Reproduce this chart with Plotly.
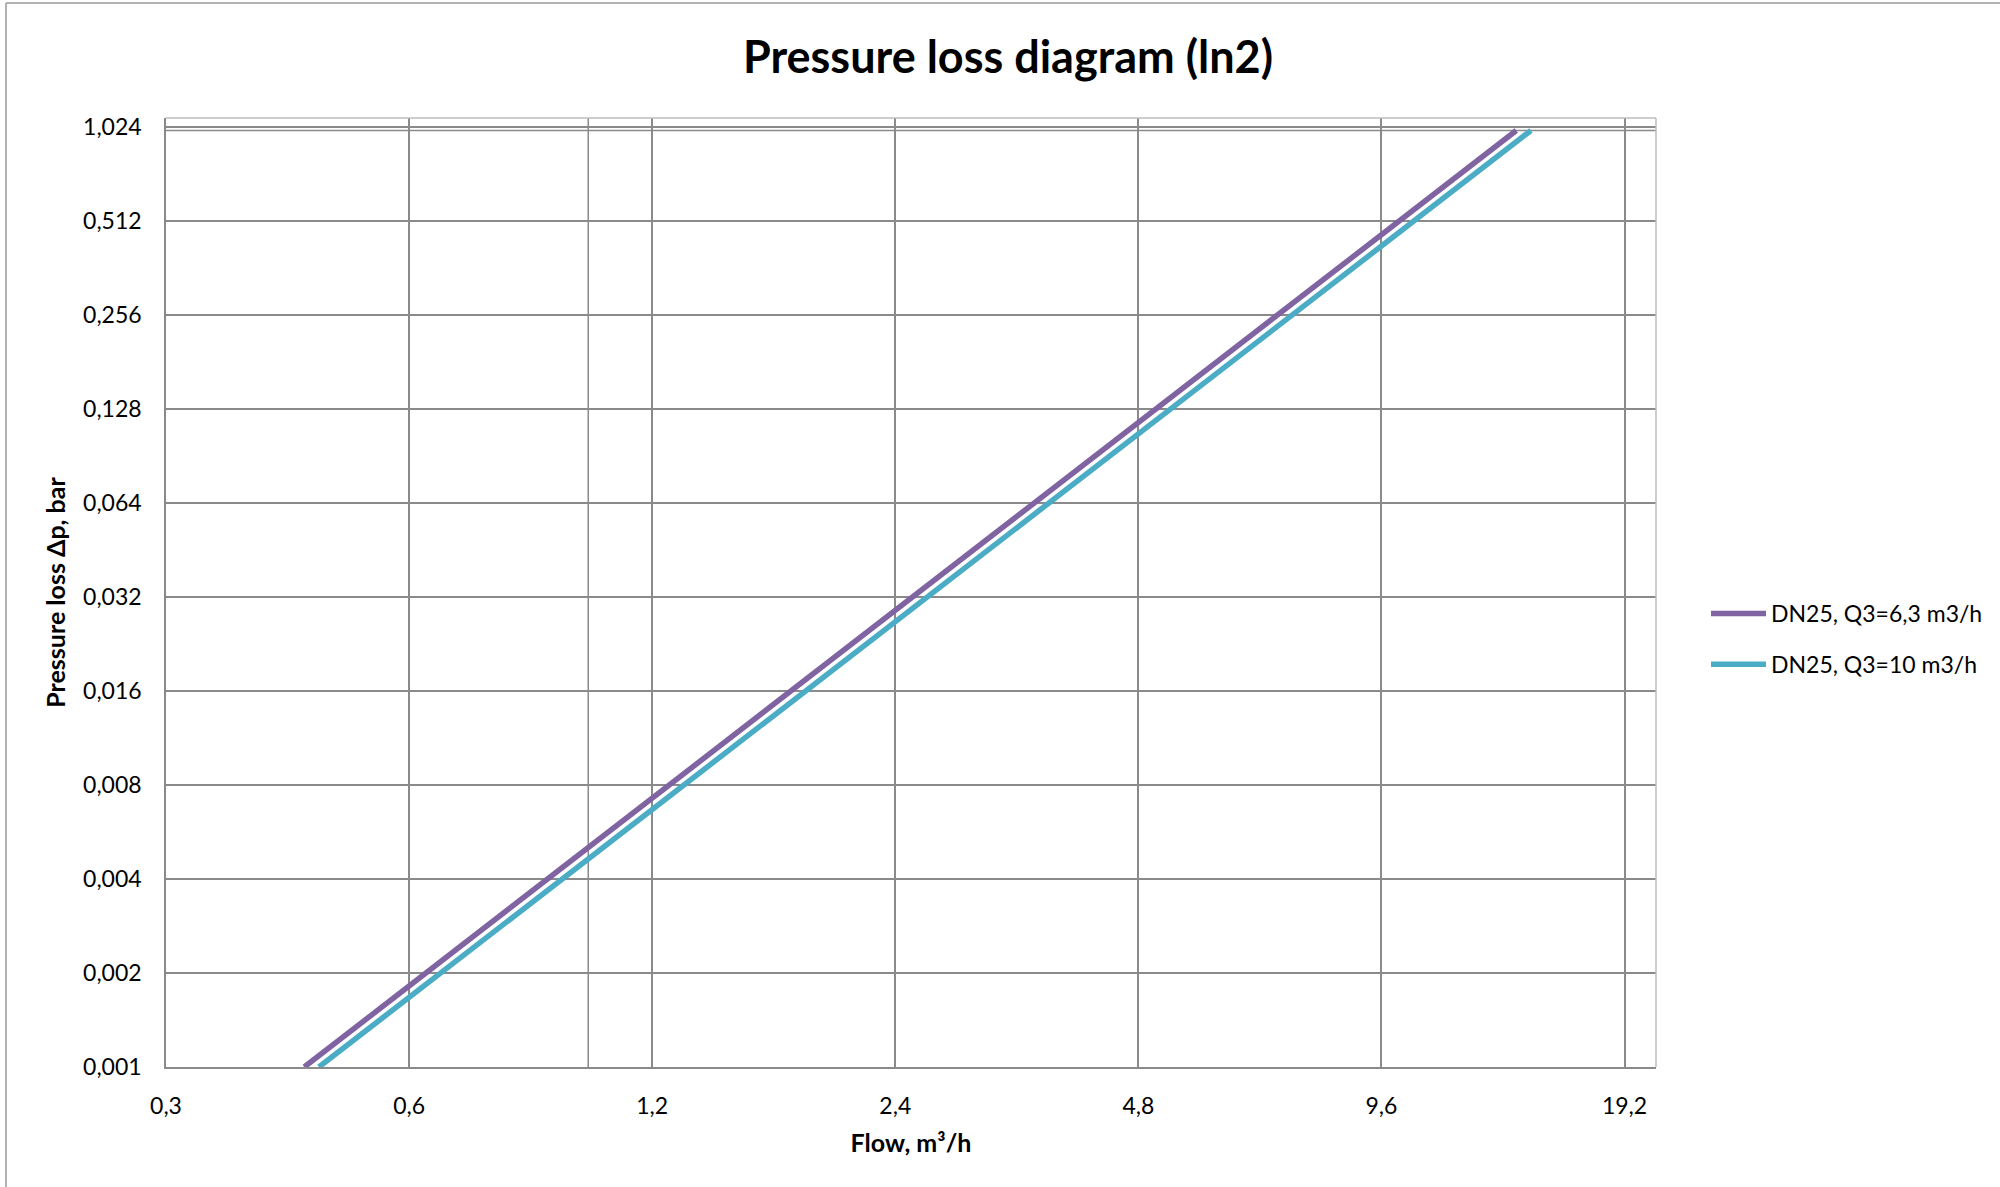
import plotly.graph_objects as go
import math

# Data (flow m3/h, pressure loss bar)
series_names = ["DN25, Q3=6,3 m3/h", "DN25, Q3=10 m3/h"]
flow_q3_63 = [0.445, 14.1]
dp_q3_63 = [0.001, 1.0]
flow_q3_10 = [0.464, 14.7]
dp_q3_10 = [0.001, 1.0]
colors = ["#8064A2", "#4BACC6"]

x_tickvals = [0.3, 0.6, 1.2, 2.4, 4.8, 9.6, 19.2]
x_ticktext = ["0,3", "0,6", "1,2", "2,4", "4,8", "9,6", "19,2"]
y_tickvals = [0.001, 0.002, 0.004, 0.008, 0.016, 0.032, 0.064, 0.128, 0.256, 0.512, 1.024]
y_ticktext = ["0,001", "0,002", "0,004", "0,008", "0,016", "0,032", "0,064", "0,128", "0,256", "0,512", "1,024"]
x_range = [0.3, 21.0]
y_range = [0.001, 1.097]
extra_x_grid = [1.0]
extra_y_grid = [1.0]

FONT = "Lato"
GRID = "#8a8a8a"

fig = go.Figure()
for i, (name, xs, ys, c) in enumerate([(series_names[0], flow_q3_63, dp_q3_63, colors[0]),
                                       (series_names[1], flow_q3_10, dp_q3_10, colors[1])]):
    fig.add_trace(go.Scatter(x=xs, y=ys, mode="lines", name=name, legendgroup=f"g{i}",
                             line=dict(color=c, width=5.5)))

shapes = []
for xv in extra_x_grid:
    shapes.append(dict(type="line", xref="x", yref="paper", x0=xv, x1=xv, y0=0, y1=1,
                       line=dict(color=GRID, width=1.5), layer="below"))
for yv in extra_y_grid:
    shapes.append(dict(type="line", xref="paper", yref="y", x0=0, x1=1, y0=yv, y1=yv,
                       line=dict(color=GRID, width=1.5), layer="below"))
# top/right plot border (lighter)
shapes.append(dict(type="line", xref="paper", yref="paper", x0=0, x1=1, y0=1, y1=1,
                   line=dict(color="#bdbdbd", width=1.5)))
shapes.append(dict(type="line", xref="paper", yref="paper", x0=1, x1=1, y0=0, y1=1,
                   line=dict(color="#bdbdbd", width=1.5)))
# outer chart frame (left and top)
L, R, T, B = 166, 344, 118, 120
W, H = 2000, 1187
pw, ph = W - L - R, H - T - B
def px2x(px):
    return (px - L) / pw
def py2y(py):
    return (H - B - py) / ph
shapes.append(dict(type="line", xref="paper", yref="paper", x0=px2x(6), x1=px2x(2000),
                   y0=py2y(3), y1=py2y(3), line=dict(color="#9a9a9a", width=1.5)))
shapes.append(dict(type="line", xref="paper", yref="paper", x0=px2x(6), x1=px2x(6),
                   y0=py2y(3), y1=py2y(1187), line=dict(color="#9a9a9a", width=1.5)))

fig.update_layout(
    width=W, height=H,
    margin=dict(l=L, r=R, t=T, b=B),
    paper_bgcolor="white", plot_bgcolor="white",
    font=dict(family=FONT, color="#000000", size=23),
    separators=", ",
    title=dict(text="<b>Pressure loss diagram (ln2)</b>", x=1008 / W, xanchor="center",
               y=1 - 57 / H, yanchor="middle", font=dict(family=FONT, size=45, color="black")),
    xaxis=dict(type="log", range=[math.log10(x_range[0]), math.log10(x_range[1])],
               tickvals=x_tickvals, ticktext=x_ticktext,
               showgrid=True, gridcolor=GRID, gridwidth=1.5,
               showline=True, linecolor=GRID, linewidth=1.5,
               ticks="", ticklabelstandoff=18, zeroline=False,
               tickfont=dict(size=23),
               title=dict(text="<b>Flow, m³/h</b>", font=dict(size=25), standoff=16)),
    yaxis=dict(type="log", range=[math.log10(y_range[0]), math.log10(y_range[1])],
               tickvals=y_tickvals, ticktext=y_ticktext,
               showgrid=True, gridcolor=GRID, gridwidth=1.5,
               showline=True, linecolor=GRID, linewidth=1.5,
               ticks="", ticklabelstandoff=18, zeroline=False,
               tickfont=dict(size=23),
               title=dict(text="<b>Pressure loss Δp, bar</b>", font=dict(size=25), standoff=10)),
    legend=dict(x=px2x(1706), xanchor="left", y=py2y(639), yanchor="middle",
                font=dict(size=23), bgcolor="rgba(0,0,0,0)", itemwidth=55,
                tracegroupgap=18),
    shapes=shapes,
    showlegend=True,
)

fig.write_html("out.html", config={"displayModeBar": False},
               post_script="document.body.style.margin='0px';document.body.style.overflow='hidden';")
